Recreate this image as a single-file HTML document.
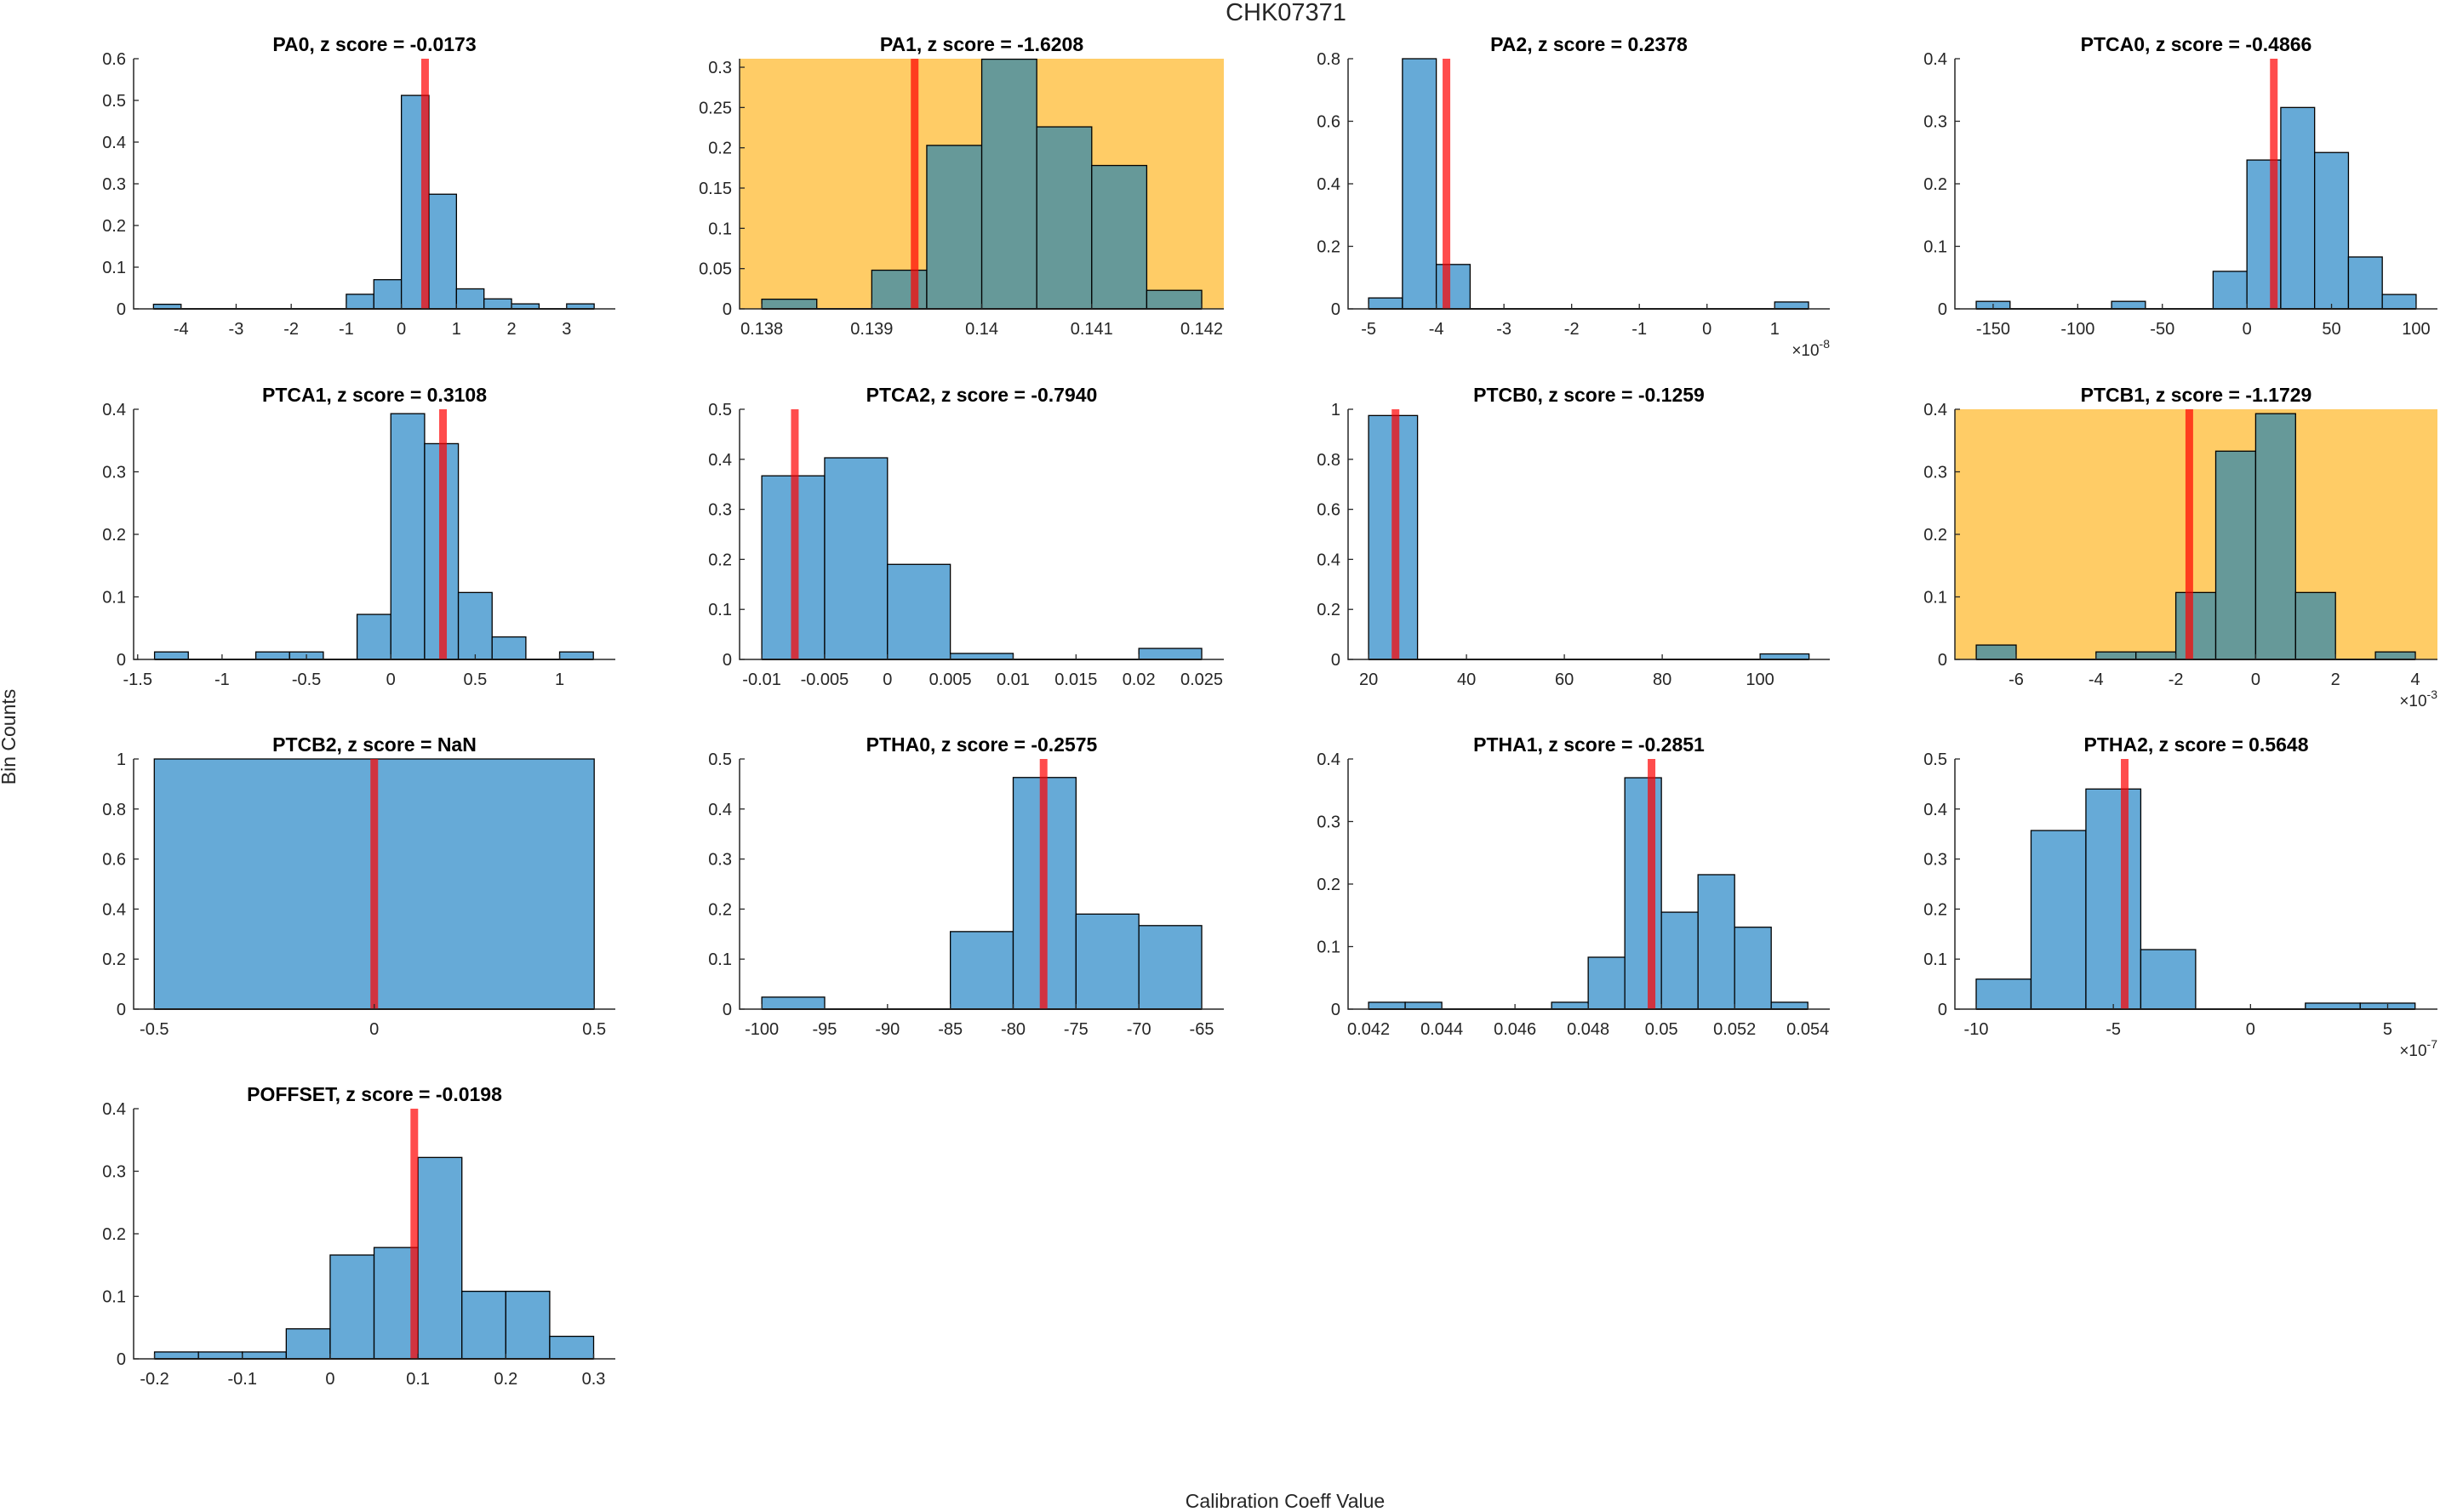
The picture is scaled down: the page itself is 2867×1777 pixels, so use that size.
<!DOCTYPE html>
<html><head><meta charset="utf-8"><style>
html,body{margin:0;padding:0;background:#fff;}
svg{display:block;font-family:"Liberation Sans","DejaVu Sans",sans-serif;}
</style></head><body>
<svg id="fig" width="2867" height="1777" viewBox="0 0 2867 1777" xmlns="http://www.w3.org/2000/svg">
<rect x="0" y="0" width="2867" height="1777" fill="#fff"/>
<text x="1511" y="24" font-size="29" fill="#262626" text-anchor="middle">CHK07371</text>
<text x="0" y="0" font-size="23" fill="#262626" text-anchor="middle" transform="translate(18,866) rotate(-90)">Bin Counts</text>
<text x="1510" y="1772" font-size="23" fill="#262626" text-anchor="middle">Calibration Coeff Value</text>
<g id="panels"></g>
</svg>
<script>
const names = ["PA0","PA1","PA2","PTCA0","PTCA1","PTCA2","PTCB0","PTCB1","PTCB2","PTHA0","PTHA1","PTHA2","POFFSET"];
const zScores = ["-0.0173","-1.6208","0.2378","-0.4866","0.3108","-0.7940","-0.1259","-1.1729","NaN","-0.2575","-0.2851","0.5648","-0.0198"];
const highlighted = [false,true,false,false,false,false,false,true,false,false,false,false,false];
const binStarts = [-4.5,0.138,-5,-160,-1.4,-0.01,20,-7,-0.5,-100,0.042,-10,-0.2];
const binWidths = [0.5,0.0005,0.5,20,0.2,0.005,10,1,1,5,0.001,2,0.05];
const countsPA0 = [0.011,0,0,0,0,0,0,0.035,0.07,0.512,0.275,0.048,0.024,0.012,0,0.012];
const countsPA1 = [0.012,0,0.048,0.203,0.31,0.226,0.178,0.023];
const countsPA2 = [0.035,0.8,0.142,0,0,0,0,0,0,0,0,0,0.022];
const countsPTCA0 = [0.012,0,0,0,0.012,0,0,0.06,0.238,0.322,0.25,0.083,0.023];
const countsPTCA1 = [0.012,0,0,0.012,0.012,0,0.072,0.393,0.345,0.107,0.036,0,0.012];
const countsPTCA2 = [0.367,0.403,0.19,0.012,0,0,0.022];
const countsPTCB0 = [0.975,0,0,0,0,0,0,0,0.022];
const countsPTCB1 = [0.023,0,0,0.012,0.012,0.107,0.333,0.393,0.107,0,0.012];
const countsPTCB2 = [1];
const countsPTHA0 = [0.024,0,0,0.155,0.463,0.19,0.167];
const countsPTHA1 = [0.011,0.011,0,0,0,0.011,0.083,0.37,0.155,0.215,0.131,0.011];
const countsPTHA2 = [0.06,0.357,0.44,0.119,0,0,0.012,0.012];
const countsPOFFSET = [0.011,0.011,0.011,0.048,0.166,0.178,0.322,0.108,0.108,0.036];
const counts = [countsPA0,countsPA1,countsPA2,countsPTCA0,countsPTCA1,countsPTCA2,countsPTCB0,countsPTCB1,countsPTCB2,countsPTHA0,countsPTHA1,countsPTHA2,countsPOFFSET];
const markerValues = [0.43,0.13939,-3.85,15.9,0.309,-0.00737,25.5,-1.663,0,-77.58,0.04973,-4.586,0.0958];
const xMins = [-4.861,0.137798,-5.303,-172.6,-1.524,-0.011767,15.81,-7.535,-0.547,-101.77,0.04144,-10.776,-0.2238];
const xMaxs = [3.884,0.142201,1.814,112.6,1.330,0.02676,114.24,4.554,0.548,-63.24,0.0546,6.815,0.3247];
const yMaxs = [0.6,0.3106,0.8,0.4,0.4,0.5,1,0.4,1,0.5,0.4,0.5,0.4];
const xTickValues = [
 [-4,-3,-2,-1,0,1,2,3],[0.138,0.139,0.14,0.141,0.142],[-5,-4,-3,-2,-1,0,1],[-150,-100,-50,0,50,100],
 [-1.5,-1,-0.5,0,0.5,1],[-0.01,-0.005,0,0.005,0.01,0.015,0.02,0.025],[20,40,60,80,100],[-6,-4,-2,0,2,4],
 [-0.5,0,0.5],[-100,-95,-90,-85,-80,-75,-70,-65],[0.042,0.044,0.046,0.048,0.05,0.052,0.054],[-10,-5,0,5],
 [-0.2,-0.1,0,0.1,0.2,0.3]];
const yTickSteps = [0.1,0.05,0.2,0.1,0.1,0.1,0.2,0.1,0.2,0.1,0.1,0.1,0.1];
const exponents = ["","","-8","","","","","-3","","","","-7",""];

const colLefts=[157,869,1584,2297], colWidths=[566,569,566,567], rowTops=[69,481,892,1303], axH=294;
const NS="http://www.w3.org/2000/svg";
const root=document.getElementById('panels');
function mk(tag,attrs,parent){const e=document.createElementNS(NS,tag);for(const k in attrs)e.setAttribute(k,attrs[k]);parent.appendChild(e);return e;}
function fmt(v){return (+v.toFixed(6)).toString();}

names.forEach((nm,i)=>{
  const col=i%4,row=Math.floor(i/4);
  const L=colLefts[col],W=colWidths[col],T=rowTops[row],B=T+axH;
  const xs=v=>L+(v-xMins[i])/(xMaxs[i]-xMins[i])*W;
  const ys=v=>B-v/yMaxs[i]*axH;
  const g=mk('g',{},root);
  
  
  if(highlighted[i]){
    const bg=mk('rect',{x:L,y:T,width:W,height:axH,fill:'#FFCC66'},g);
    
    
  }
  const barFill=highlighted[i]?'#669999':'#66AAD7';
  counts[i].forEach((c,k)=>{
    const x0=binStarts[i]+k*binWidths[i],x1=x0+binWidths[i];
    if(c<=0){ return; }
    const r=mk('rect',{x:xs(x0),y:ys(c),width:xs(x1)-xs(x0),height:B-ys(c),fill:barFill,stroke:'#000','stroke-width':1.3},g);
    
    
  });
  const n=counts[i].length;
  mk('line',{x1:xs(binStarts[i]),x2:xs(binStarts[i]+n*binWidths[i]),y1:B,y2:B,stroke:'#000','stroke-width':2},g);
  const mline=mk('rect',{x:xs(markerValues[i])-4.5,y:T,width:9,height:axH,fill:'rgba(255,0,0,0.7)'},g);
  
  
  const ax=mk('path',{d:`M${L} ${T}V${B}H${L+W}`,stroke:'#262626','stroke-width':1.5,fill:'none'},g);
  
  
  xTickValues[i].forEach(v=>{
    const x=xs(v);
    mk('line',{x1:x,x2:x,y1:B,y2:B-6,stroke:'#262626','stroke-width':1.3},g);
    const t=mk('text',{x:x,y:B+30,'font-size':20,fill:'#262626','text-anchor':'middle'},g);
    t.textContent=fmt(v);
    
    
  });
  const nT=Math.floor(yMaxs[i]/yTickSteps[i]+1e-6);
  for(let k=0;k<=nT;k++){
    const v=k*yTickSteps[i],y=ys(v);
    mk('line',{x1:L,x2:L+6,y1:y,y2:y,stroke:'#262626','stroke-width':1.3},g);
    const t=mk('text',{x:L-9,y:y+7,'font-size':20,fill:'#262626','text-anchor':'end'},g);
    t.textContent=fmt(v);
    
    
  }
  const tt=mk('text',{x:L+W/2,y:T-9,'font-size':23,'font-weight':'bold',fill:'#000','text-anchor':'middle'},g);
  tt.textContent=nm+', z score = '+zScores[i];
  
  
  if(exponents[i]){
    const ex=mk('text',{x:L+W,y:B+55,'font-size':19,fill:'#262626','text-anchor':'end'},g);
    ex.innerHTML='×10<tspan dy="-9" font-size="14">'+exponents[i]+'</tspan>';
    
    
  }
});
</script>
</body></html>
